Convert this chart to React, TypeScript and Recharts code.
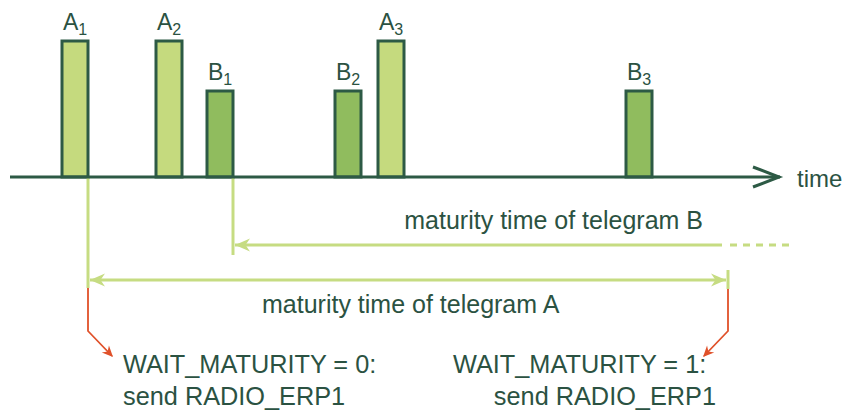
import React from 'react';
import {
  ComposedChart,
  XAxis,
  YAxis,
  ReferenceArea,
  ReferenceLine,
  Line,
  Scatter,
} from 'recharts';

// telegram bursts along the time axis (time units, level = pulse height)
const telegramNames = ['A', 'A', 'B', 'B', 'A', 'B'];
const telegramIndex = ['1', '2', '1', '2', '3', '3'];
const telegramStart = [62, 156, 207, 335, 378, 626];
const telegramEnd = [88, 182, 233, 361, 404, 652];
const telegramLevel = [136, 136, 86, 86, 136, 86];

// time axis
const timeAxis = [{ x: 10, y: 0 }, { x: 780, y: 0 }];
const timeChevron = [{ x: 753, y: 10 }, { x: 779, y: 0 }, { x: 753, y: -10 }];

// maturity spans
const dropA = [{ x: 88, y: 0 }, { x: 88, y: -111 }];
const dropB = [{ x: 233, y: 0 }, { x: 233, y: -78 }];
const spanB = [{ x: 235, y: -68 }, { x: 722, y: -68 }];
const spanBOpen = [{ x: 730, y: -68 }, { x: 790, y: -68 }];
const spanA = [{ x: 90, y: -103 }, { x: 726, y: -103 }];
const endTickA = [{ x: 728, y: -93 }, { x: 728, y: -112 }];

// pointers to the result boxes
const pointerLeft = [{ x: 88, y: -111 }, { x: 88, y: -154 }, { x: 112, y: -179 }];
const pointerRight = [{ x: 728, y: -112 }, { x: 728, y: -154 }, { x: 704, y: -179 }];

const greenHeads = [
  { x: 235, y: -68, angle: 180 },
  { x: 90, y: -103, angle: 180 },
  { x: 726, y: -103, angle: 0 },
];
const redHeads = [
  { x: 113, y: -180, angle: 46 },
  { x: 703, y: -180, angle: 134 },
];

const notes = [
  { x: 797, y: -10, text: 'time', anchor: 'start', size: 24 },
  { x: 703, y: -52, text: 'maturity time of telegram B', anchor: 'end', size: 25 },
  { x: 262, y: -136, text: 'maturity time of telegram A', anchor: 'start', size: 25 },
  { x: 123, y: -196, text: 'WAIT_MATURITY = 0:', anchor: 'start', size: 25.3 },
  { x: 123, y: -228, text: 'send RADIO_ERP1', anchor: 'start', size: 25.3 },
  { x: 453, y: -196, text: 'WAIT_MATURITY = 1:', anchor: 'start', size: 25.3 },
  { x: 716, y: -228, text: 'send RADIO_ERP1', anchor: 'end', size: 25.3 },
];

const DARK = '#2d5a45';
const TEXT = '#2b5242';
const FILL_A = '#c5da7e';
const FILL_B = '#90bc5e';
const SPAN = '#c6dc82';
const RED = '#e0512a';
const FONT = '"Liberation Sans", Arial, sans-serif';

const ArrowHead = (len: number, half: number, color: string) => (props: any) => {
  const { cx, cy, payload } = props;
  const a = (payload.angle * Math.PI) / 180;
  const rot = (px: number, py: number) =>
    `${cx + px * Math.cos(a) - py * Math.sin(a)},${cy + px * Math.sin(a) + py * Math.cos(a)}`;
  const pts = [rot(0, 0), rot(-len, -half), rot(-len * 0.7, 0), rot(-len, half)].join(' ');
  return <polygon points={pts} fill={color} />;
};

const Note = (props: any) => {
  const { cx, cy, payload } = props;
  return (
    <text x={cx} y={cy} textAnchor={payload.anchor} fill={TEXT} fontSize={payload.size} fontFamily={FONT}>
      {payload.text}
    </text>
  );
};

const PulseLabel = (name: string, idx: string) => (props: any) => {
  const { x, y, width } = props.viewBox;
  return (
    <text x={x + width / 2} y={y - 11} textAnchor="middle" fill={TEXT} fontSize={23} fontFamily={FONT}>
      {name}
      <tspan fontSize={16} dy={5}>{idx}</tspan>
    </text>
  );
};

export default function App() {
  return (
    <div style={{ position: 'absolute', left: 0, top: 0, background: '#fff' }}>
      <ComposedChart width={844} height={416} margin={{ top: 0, right: 0, bottom: 0, left: 0 }}>
        <XAxis type="number" dataKey="x" domain={[0, 844]} allowDataOverflow hide />
        <YAxis type="number" dataKey="y" domain={[-239, 177]} allowDataOverflow hide />

        {telegramNames.map((name, i) => (
          <ReferenceArea
            key={i}
            x1={telegramStart[i]}
            x2={telegramEnd[i]}
            y1={0}
            y2={telegramLevel[i]}
            fill={name === 'A' ? FILL_A : FILL_B}
            fillOpacity={1}
            stroke={DARK}
            strokeWidth={3}
            label={PulseLabel(name, telegramIndex[i])}
          />
        ))}

        <ReferenceLine segment={dropA} stroke={SPAN} strokeWidth={3} />
        <ReferenceLine segment={dropB} stroke={SPAN} strokeWidth={3} />
        <ReferenceLine segment={spanB} stroke={SPAN} strokeWidth={3} />
        <ReferenceLine segment={spanBOpen} stroke={SPAN} strokeWidth={3} strokeDasharray="7 6" />
        <ReferenceLine segment={spanA} stroke={SPAN} strokeWidth={3} />
        <ReferenceLine segment={endTickA} stroke={SPAN} strokeWidth={3} />

        <ReferenceLine segment={timeAxis} stroke={DARK} strokeWidth={3} />
        <Line data={timeChevron} dataKey="y" stroke={DARK} strokeWidth={3} dot={false} activeDot={false} isAnimationActive={false} />

        <Line data={pointerLeft} dataKey="y" stroke={RED} strokeWidth={1.8} dot={false} activeDot={false} isAnimationActive={false} />
        <Line data={pointerRight} dataKey="y" stroke={RED} strokeWidth={1.8} dot={false} activeDot={false} isAnimationActive={false} />

        <Scatter data={greenHeads} shape={ArrowHead(15, 6.5, SPAN)} isAnimationActive={false} />
        <Scatter data={redHeads} shape={ArrowHead(11, 5, RED)} isAnimationActive={false} />
        <Scatter data={notes} shape={Note} isAnimationActive={false} />
      </ComposedChart>
    </div>
  );
}
